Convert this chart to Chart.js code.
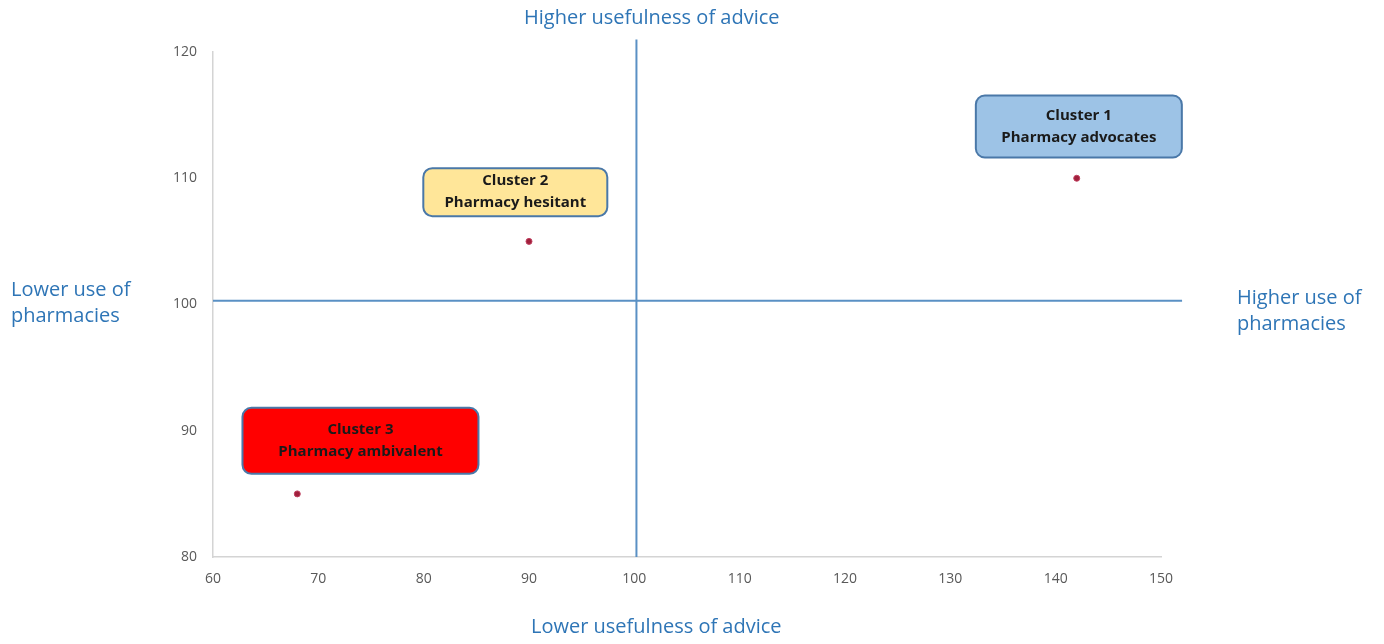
<!DOCTYPE html>
<html>
<head>
<meta charset="utf-8">
<script src="https://cdn.jsdelivr.net/npm/chart.js@4/dist/chart.umd.min.js"></script>
<style>
  html, body { margin: 0; padding: 0; background: #fff; }
  #wrap { position: relative; width: 1384px; height: 644px; }
  .lbl { position: absolute; color: #2e75b6; font-family: "Open Sans", "Liberation Sans", sans-serif; font-size: 20px; line-height: 26px; white-space: nowrap; }
</style>
</head>
<body>
<div id="wrap">
  <canvas id="chart" width="1384" height="644"></canvas>
  <div class="lbl" style="left:524px; top:4px;">Higher usefulness of advice</div>
  <div class="lbl" style="left:531px; top:613px;">Lower usefulness of advice</div>
  <div class="lbl" style="left:11px; top:276px;">Lower use of<br>pharmacies</div>
  <div class="lbl" style="left:1237px; top:284px;">Higher use of<br>pharmacies</div>
</div>
<script>
// cluster data
const clusterNames = ['Cluster 1', 'Cluster 2', 'Cluster 3'];
const clusterTypes = ['Pharmacy advocates', 'Pharmacy hesitant', 'Pharmacy ambivalent'];
const adviceScores = [142, 90, 68];
const pharmacyUse = [110, 105, 85];

const xTicks = [60, 70, 80, 90, 100, 110, 120, 130, 140, 150];
const yTicks = [80, 90, 100, 110, 120];

// quadrant divider lines
const hLineX = [60, 152];
const hLineY = [100.3, 100.3];
const vLineX = [100.2, 100.2];
const vLineY = [80, 121];

// label boxes (center in data units, size in px)
const boxStyles = [
    { cx: 142.2, cy: 114.1, w: 206, h: 62, fill: '#9dc3e6' },
    { cx: 88.7, cy: 108.9, w: 184, h: 48, fill: '#ffe699' },
    { cx: 74.0, cy: 89.2, w: 236, h: 66, fill: '#ff0000' }
];

const labelBoxes = {
    id: 'labelBoxes',
    afterDatasetsDraw(chart) {
        const ctx = chart.ctx;
        const xs = chart.scales.x, ys = chart.scales.y;
        ctx.save();
        boxStyles.forEach((b, i) => {
            const cx = xs.getPixelForValue(b.cx);
            const cy = ys.getPixelForValue(b.cy);
            const x = cx - b.w / 2, y = cy - b.h / 2;
            ctx.beginPath();
            ctx.roundRect(x, y, b.w, b.h, 9);
            ctx.fillStyle = b.fill;
            ctx.fill();
            ctx.lineWidth = 2;
            ctx.strokeStyle = '#4a78a8';
            ctx.stroke();
            ctx.fillStyle = '#1a1a1a';
            ctx.font = 'bold 15px "Open Sans", "Liberation Sans", sans-serif';
            ctx.textAlign = 'center';
            ctx.textBaseline = 'middle';
            ctx.fillText(clusterNames[i], cx, cy - 11);
            ctx.fillText(clusterTypes[i], cx, cy + 11);
        });
        ctx.restore();
    }
};

const lineStyle = { borderColor: '#5a90c4', borderWidth: 2, pointRadius: 0, showLine: true, clip: false, fill: false };

new Chart(document.getElementById('chart'), {
    type: 'scatter',
    data: {
        datasets: [
            Object.assign({ data: hLineX.map((x, i) => ({ x: x, y: hLineY[i] })) }, lineStyle),
            Object.assign({ data: vLineX.map((x, i) => ({ x: x, y: vLineY[i] })) }, lineStyle),
            {
                data: adviceScores.map((x, i) => ({ x: x, y: pharmacyUse[i] })),
                pointRadius: 3,
                pointBackgroundColor: '#a0203c',
                pointBorderColor: '#c04060',
                pointBorderWidth: 1,
                clip: false
            }
        ]
    },
    options: {
        responsive: false,
        animation: false,
        layout: { padding: { top: 52, right: 223, left: 0, bottom: 0 } },
        plugins: { legend: { display: false }, tooltip: { enabled: false } },
        scales: {
            x: {
                type: 'linear', min: 60, max: 150,
                afterBuildTicks: s => { s.ticks = xTicks.map(v => ({ value: v })); },
                afterFit: s => { s.height = 87; },
                grid: { display: false, drawTicks: false },
                border: { color: '#d4d4d4', width: 1.5 },
                ticks: { padding: 14, color: '#595959', font: { family: '"Open Sans", "Liberation Sans", sans-serif', size: 14 } }
            },
            y: {
                type: 'linear', min: 80, max: 120,
                afterBuildTicks: s => { s.ticks = yTicks.map(v => ({ value: v })); },
                afterFit: s => { s.width = 213; },
                grid: { display: false, drawTicks: false },
                border: { color: '#d4d4d4', width: 1.5 },
                ticks: { padding: 16, color: '#595959', font: { family: '"Open Sans", "Liberation Sans", sans-serif', size: 14 } }
            }
        }
    },
    plugins: [labelBoxes]
});
</script>
</body>
</html>
